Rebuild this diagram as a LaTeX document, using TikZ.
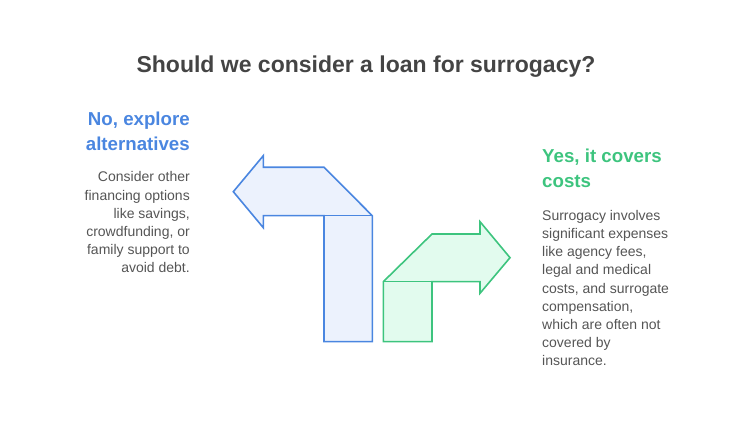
\documentclass[tikz,border=0pt]{standalone}
\usepackage{fontspec}
\setmainfont{Liberation Sans}
\definecolor{titlegray}{HTML}{444444}
\definecolor{bodygray}{HTML}{555555}
\definecolor{blueline}{HTML}{4A86E0}
\definecolor{bluefill}{HTML}{ECF2FD}
\definecolor{greenline}{HTML}{3DC47E}
\definecolor{greenfill}{HTML}{E2FBEE}
\begin{document}
\begin{tikzpicture}[x=1pt,y=-1pt,
  title/.style={font=\fontsize{23}{27}\selectfont\bfseries, text=titlegray},
  head/.style={font=\fontsize{18.7}{25}\selectfont\bfseries, inner sep=0pt},
  body/.style={font=\fontsize{14}{18.2}\selectfont, text=bodygray, inner sep=0pt},
  bluearrow/.style={draw=blueline, fill=bluefill, line width=1.6pt, line join=miter},
  greenarrow/.style={draw=greenline, fill=greenfill, line width=1.6pt, line join=miter}]
\useasboundingbox (0,0) rectangle (732,443);
\node[title] (t) at (366,67) {Should we consider a loan for surrogacy?};
% blue arrow
\draw[bluearrow] (233.3,191.7) -- (263.3,155.7) -- (263.3,167.3) -- (324,167.3) -- (372.3,215.7)
  -- (372.3,341.7) -- (324,341.7) -- (324,215.7) -- (263.3,215.7) -- (263.3,227.7) -- cycle;
\draw[bluearrow] (324,215.7) -- (372.3,215.7);
% green arrow
\draw[greenarrow] (383.3,281.7) -- (432,234) -- (480,234) -- (480,221.7) -- (510,257.7)
  -- (480,293.3) -- (480,281.7) -- (432,281.7) -- (432,341.7) -- (383.3,341.7) -- cycle;
\draw[greenarrow] (383.3,281.7) -- (432,281.7);
\node[head, text=blueline, anchor=north east, align=right] (nh) at (190,112) {No, explore\\alternatives};
\node[body, anchor=north east, align=right] (nb) at (190,171.5) {Consider other\\financing options\\like savings,\\crowdfunding, or\\family support to\\avoid debt.};
\node[head, text=greenline, anchor=north west, align=left] (yh) at (542,149) {Yes, it covers\\costs};
\node[body, anchor=north west, align=left] (yb) at (542,210) {Surrogacy involves\\significant expenses\\like agency fees,\\legal and medical\\costs, and surrogate\\compensation,\\which are often not\\covered by\\insurance.};
\end{tikzpicture}
\end{document}
